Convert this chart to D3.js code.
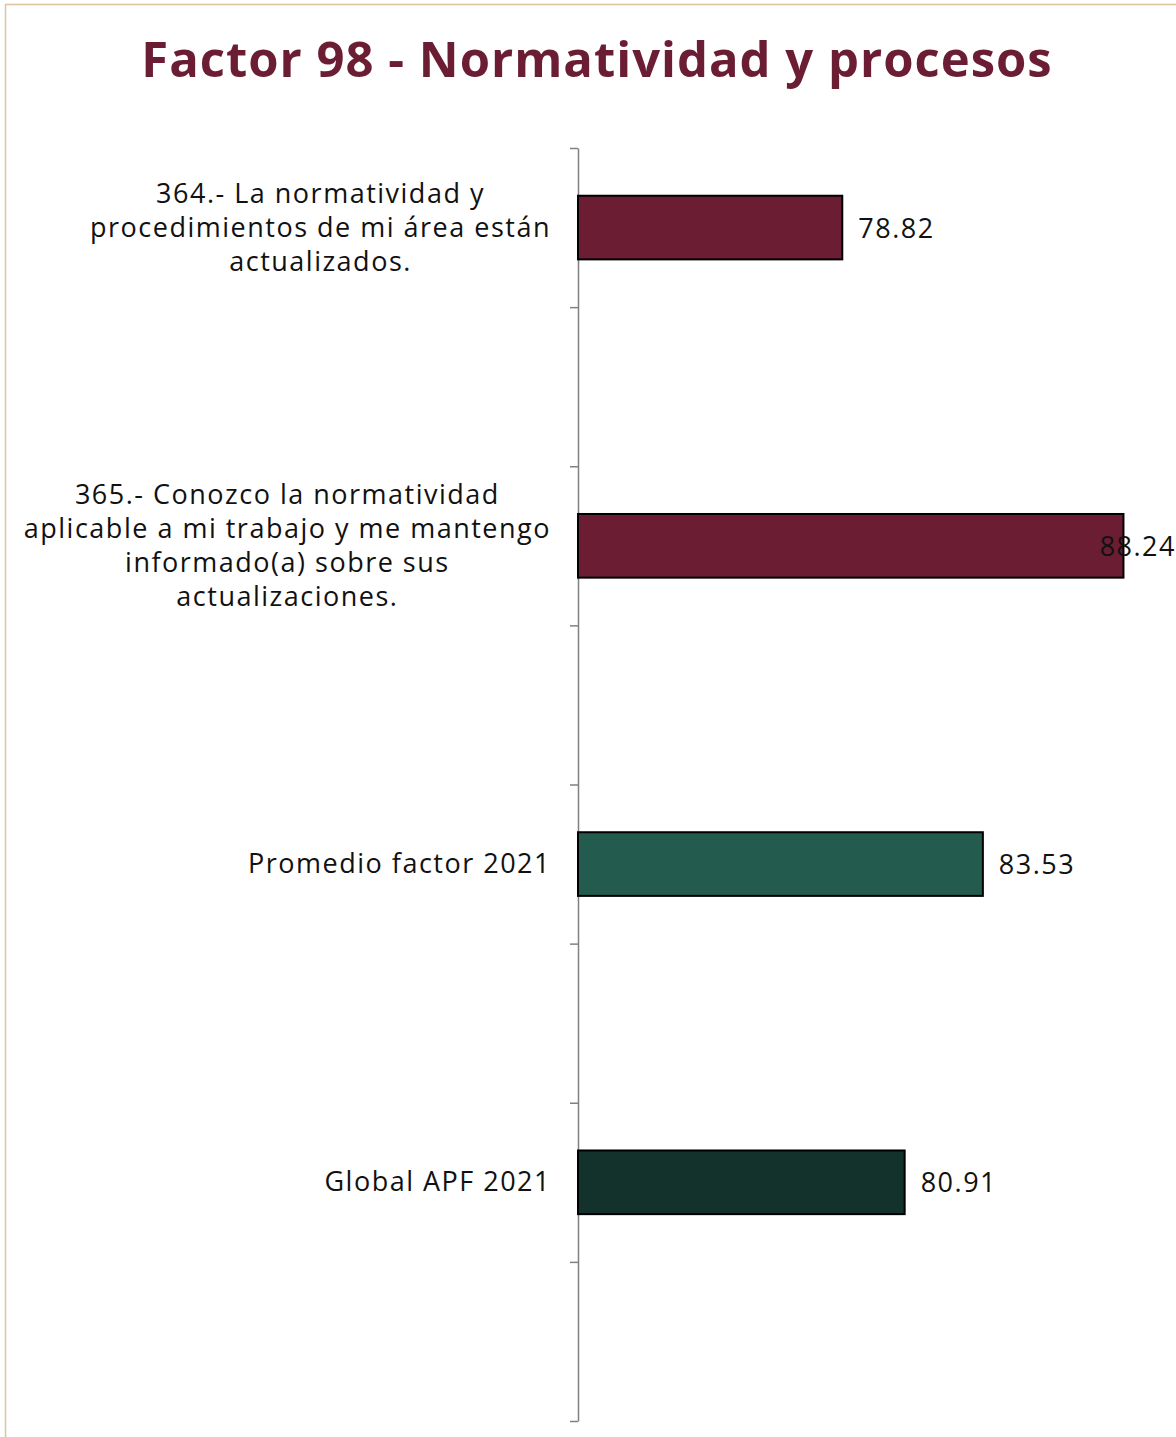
<!DOCTYPE html>
<html>
<head>
<meta charset="utf-8">
<script src="https://cdn.jsdelivr.net/npm/d3@7"></script>
<style>
  html, body { margin: 0; padding: 0; background: #fff; }
  svg { display: block; }
</style>
</head>
<body>
<div id="chart"></div>
<script>
// Chart data
const title = "Factor 98 - Normatividad y procesos";
const categories = [
  "364.- La normatividad y\nprocedimientos de mi área están\nactualizados.",
  "365.- Conozco la normatividad\naplicable a mi trabajo y me mantengo\ninformado(a) sobre sus\nactualizaciones.",
  "Promedio factor 2021",
  "Global APF 2021"
];
const values = [78.82, 88.24, 83.53, 80.91];
const barColors = ["#6a1d33", "#6a1d33", "#235b4e", "#13322b"];

const W = 1176, H = 1437;
const fontFamily = "'Open Sans', 'Noto Sans', sans-serif";

const svg = d3.select("#chart").append("svg")
  .attr("width", W).attr("height", H);

// Outer frame (left and top edges)
svg.append("path")
  .attr("d", `M5.5,${H} L5.5,4.5 L${W},4.5`)
  .attr("fill", "none")
  .attr("stroke", "#dcc59e")
  .attr("stroke-width", 1.5);

// Title
svg.append("text")
  .attr("x", 597).attr("y", 77)
  .attr("text-anchor", "middle")
  .attr("font-family", fontFamily)
  .attr("font-weight", 700)
  .attr("font-size", 49)
  .attr("letter-spacing", 1)
  .attr("fill", "#6a1d33")
  .text(title);

// Each category occupies one slot followed by an empty slot
const slots = categories.length * 2;
const plotTop = 148, plotBottom = 1421, axisX = 578;

const y = d3.scaleBand()
  .domain(d3.range(slots))
  .range([plotTop, plotBottom])
  .paddingInner(0.6).paddingOuter(0.3);

const x = d3.scaleLinear().domain([70, 90]).range([579, 1176]);

// Category axis with ticks at slot boundaries
const tickScale = d3.scaleLinear().domain([0, slots]).range([plotTop, plotBottom]);
const axis = svg.append("g")
  .attr("transform", `translate(${axisX},0)`)
  .call(d3.axisLeft(tickScale).tickValues(d3.range(slots + 1)).tickSize(8).tickSizeOuter(0).tickFormat(""));
axis.selectAll("path, line").attr("stroke", "#808080").attr("stroke-width", 1.5);

// Bars
const rows = categories.map((c, i) => ({ cat: c, value: values[i], color: barColors[i], slot: i * 2 }));

svg.append("g").selectAll("rect")
  .data(rows).join("rect")
  .attr("x", axisX)
  .attr("y", d => y(d.slot))
  .attr("width", d => x(d.value) - axisX)
  .attr("height", y.bandwidth())
  .attr("fill", d => d.color)
  .attr("stroke", "#000")
  .attr("stroke-width", 2);

// Value labels
svg.append("g").selectAll("text")
  .data(rows).join("text")
  .attr("font-family", fontFamily)
  .attr("font-size", 27)
  .attr("letter-spacing", 1.5)
  .attr("fill", "#111")
  .attr("y", d => y(d.slot) + y.bandwidth() / 2 + 10)
  .text(d => d.value.toFixed(2))
  .each(function (d) {
    const t = d3.select(this);
    const w = this.getComputedTextLength();
    let px = x(d.value) + 16;
    if (px + w > W) px = W - w;
    t.attr("x", px);
  });

// Category labels: block right-aligned to the axis, lines centred within the block
const labelRight = 551, lineH = 34;
rows.forEach(d => {
  const lines = d.cat.split("\n");
  const g = svg.append("g");
  const texts = lines.map(l => g.append("text")
    .attr("font-family", fontFamily)
    .attr("font-size", 27)
    .attr("letter-spacing", 1.5)
    .attr("fill", "#111")
    .attr("text-anchor", "middle")
    .text(l));
  const maxW = d3.max(texts, t => t.node().getComputedTextLength());
  const cx = labelRight - maxW / 2;
  const cy = y(d.slot) + y.bandwidth() / 2;
  const first = cy - (lines.length - 1) * lineH / 2 + 9;
  texts.forEach((t, i) => t.attr("x", cx).attr("y", first + i * lineH));
});
</script>
</body>
</html>
